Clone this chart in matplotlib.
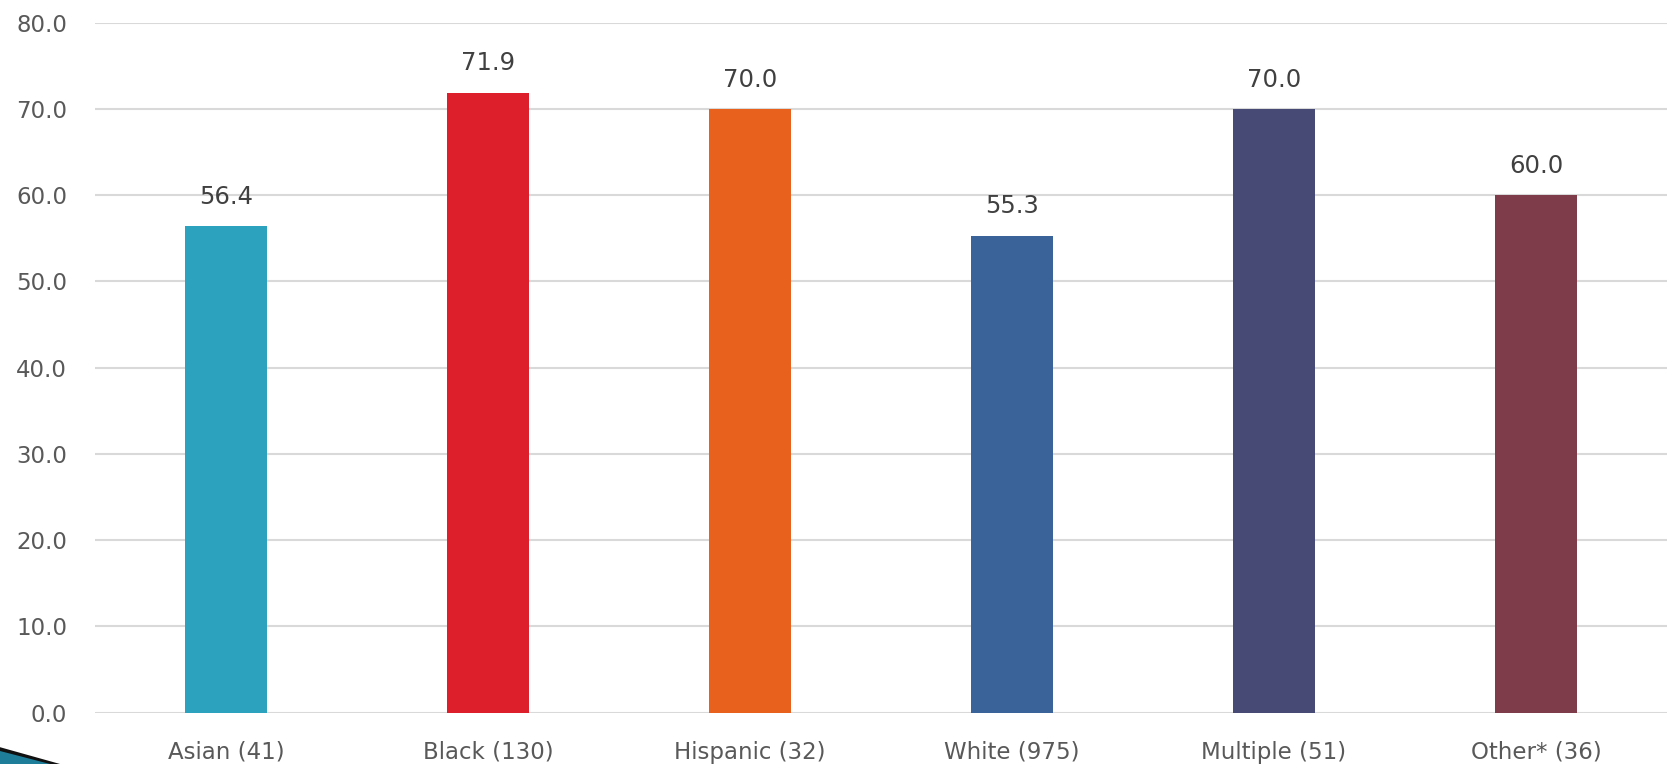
import matplotlib.pyplot as plt
from matplotlib.patches import Polygon

# Survey values by group (n in parentheses)
groups = ['Asian (41)', 'Black (130)', 'Hispanic (32)', 'White (975)',
          'Multiple (51)', 'Other* (36)']
values = [56.4, 71.9, 70.0, 55.3, 70.0, 60.0]
colors = ['#2CA2BF', '#DC1F2A', '#E9621D', '#3A6399', '#464A75', '#7E3B4A']
yticks = [0, 10, 20, 30, 40, 50, 60, 70, 80]

plt.rcParams['font.family'] = ['DejaVu Sans']

fig = plt.figure(figsize=(16.67, 7.64), dpi=100)
ax = fig.add_axes([0.057, 0.0671, 0.943, 0.9032])

x = list(range(len(groups)))
ax.bar(x, values, width=0.315, color=colors, zorder=3)

for xi, v in zip(x, values):
    ax.annotate(f'{v:.1f}', (xi, v), xytext=(0, 12.5), textcoords='offset points',
                ha='center', va='bottom', fontsize=17.5, color='#404040')

ax.set_xlim(-0.5, len(groups) - 0.5)
ax.set_ylim(0, 80)
ax.set_yticks(yticks)
ax.set_yticklabels([f'{t:.1f}' for t in yticks])
ax.set_xticks(x)
ax.set_xticklabels(groups)
ax.tick_params(axis='y', length=0, pad=20, labelsize=16.5, labelcolor='#595959')
ax.tick_params(axis='x', length=0, pad=20, labelsize=16.5, labelcolor='#595959')

ax.grid(axis='y', color='#D9D9D9', linewidth=1.5, zorder=0)
for s in ax.spines.values():
    s.set_visible(False)

# decorative slide bullet in the bottom-left corner
fig.patches.append(Polygon([(0, 0.02), (0.034, 0), (0, 0)], closed=True,
                           transform=fig.transFigure, facecolor='#1E7E99',
                           edgecolor='none'))
fig.patches.append(Polygon([(0, 0.022), (0.036, 0), (0.03, 0), (0, 0.017)],
                           closed=True, transform=fig.transFigure,
                           facecolor='#111111', edgecolor='none'))

fig.savefig('out.png', dpi=100)
